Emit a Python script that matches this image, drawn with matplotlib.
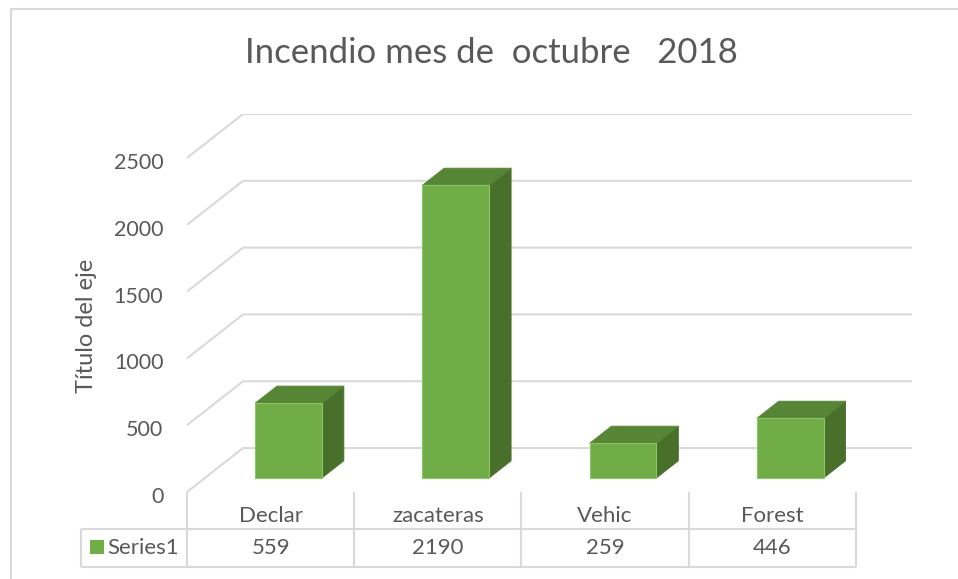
import matplotlib
matplotlib.use("Agg")
import matplotlib.pyplot as plt
from matplotlib.patches import Polygon, Rectangle
import matplotlib.transforms as mtransforms

# ---- data ----
categories = ["Declar", "zacateras", "Vehic", "Forest"]
values = [559, 2190, 259, 446]
series_name = "Series1"
yticks = [0, 500, 1000, 1500, 2000, 2500]
title = "Incendio mes de  octubre   2018"
ylabel = "Título del eje"

# ---- style ----
FONT = ["Lato", "DejaVu Sans"]
TXT = "#595959"
GRID = "#D9D9D9"
FRONT = "#70AD47"
TOP = "#568536"
SIDE = "#48702A"
EDGE = "#8DC466"

W, H = 958, 579
fig = plt.figure(figsize=(W / 100, H / 100), dpi=100)

# overlay axes in pixel coordinates (y down)
ov = fig.add_axes([0, 0, 1, 1])
ov.set_xlim(0, W)
ov.set_ylim(H, 0)
ov.axis("off")

# outer chart border (left and top visible)
ov.plot([11, 11, W + 5], [H + 5, 9, 9], color=GRID, lw=1.5, zorder=0)

# oblique depth parameters (in data units)
DX = 0.335      # depth shift in category units
DY = 329        # depth shift in value units
F0, F1 = 0.32, 0.71   # bar depth range
BW = 0.40       # bar width (category units)

n = len(categories)
ymax = yticks[-1]

x0_px, x1_px = 187, 912
y0_px, y1_px = 492, 114
ax = fig.add_axes([x0_px / W, (H - y0_px) / H, (x1_px - x0_px) / W, (y0_px - y1_px) / H])
ax.set_xlim(-0.5, n - 0.5 + DX)
ax.set_ylim(0, ymax + DY)
ax.patch.set_alpha(0)
for s in ax.spines.values():
    s.set_visible(False)
ax.set_xticks([])
ax.set_yticks(yticks)
ax.set_yticklabels([str(t) for t in yticks], fontsize=15.5, color=TXT, family=FONT)
ax.tick_params(axis="y", length=0, pad=17)
offset = mtransforms.ScaledTranslation(0, -3 / 100, fig.dpi_scale_trans)
for lab in ax.get_yticklabels():
    lab.set_transform(lab.get_transform() + offset)

# gridlines: diagonal on left wall + horizontal on back wall
for t in yticks:
    ax.plot([-0.5, -0.5 + DX, n - 0.5 + DX], [t, t + DY, t + DY],
            color=GRID, lw=1.5, zorder=1, solid_capstyle="butt")

# bars
for i, v in enumerate(values):
    xl, xr = i - BW / 2, i + BW / 2
    front = [(xl + F0 * DX, F0 * DY), (xr + F0 * DX, F0 * DY),
             (xr + F0 * DX, v + F0 * DY), (xl + F0 * DX, v + F0 * DY)]
    top = [(xl + F0 * DX, v + F0 * DY), (xr + F0 * DX, v + F0 * DY),
           (xr + F1 * DX, v + F1 * DY), (xl + F1 * DX, v + F1 * DY)]
    side = [(xr + F0 * DX, F0 * DY), (xr + F1 * DX, F1 * DY),
            (xr + F1 * DX, v + F1 * DY), (xr + F0 * DX, v + F0 * DY)]
    ax.add_patch(Polygon(side, closed=True, fc=SIDE, ec=SIDE, lw=0.6, zorder=3))
    ax.add_patch(Polygon(top, closed=True, fc=TOP, ec=TOP, lw=0.6, zorder=3))
    ax.add_patch(Polygon(front, closed=True, fc=FRONT, ec=EDGE, lw=0.8, zorder=4))

# ---- data table ----
blend = mtransforms.blended_transform_factory(ax.transData, ov.transData)
row_top, row_mid, row_bot = 492, 529, 567
tbl_left = 81
for k in range(n + 1):
    ov.plot([k - 0.5, k - 0.5], [row_top, row_bot], color=GRID, lw=1.5,
            transform=blend, solid_capstyle="butt")
for yy in (row_mid, row_bot):
    ov.plot([tbl_left, x0_px], [yy, yy], color=GRID, lw=1.5, solid_capstyle="butt")
    ov.plot([-0.5, n - 0.5], [yy, yy], color=GRID, lw=1.5, transform=blend,
            solid_capstyle="butt")
ov.plot([tbl_left, tbl_left], [row_mid, row_bot], color=GRID, lw=1.5, solid_capstyle="butt")

for i, (c, v) in enumerate(zip(categories, values)):
    ov.text(i, (row_top + row_mid) / 2 + 5, c, transform=blend, ha="center", va="center",
            fontsize=16, color=TXT, family=FONT)
    ov.text(i, (row_mid + row_bot) / 2, str(v), transform=blend, ha="center", va="center",
            fontsize=16, color=TXT, family=FONT)

# legend key in table
ov.add_patch(Rectangle((90, 540), 14, 14, fc=FRONT, ec="none"))
ov.text(107, (row_mid + row_bot) / 2, series_name, ha="left", va="center",
        fontsize=16, color=TXT, family=FONT)

# title and axis label
ov.text(491, 53, title, ha="center", va="center", fontsize=25, color=TXT, family=FONT)
ov.text(87, 326, ylabel, ha="center", va="center", rotation=90, fontsize=17,
        color=TXT, family=FONT)

fig.savefig("out.png", dpi=100)
